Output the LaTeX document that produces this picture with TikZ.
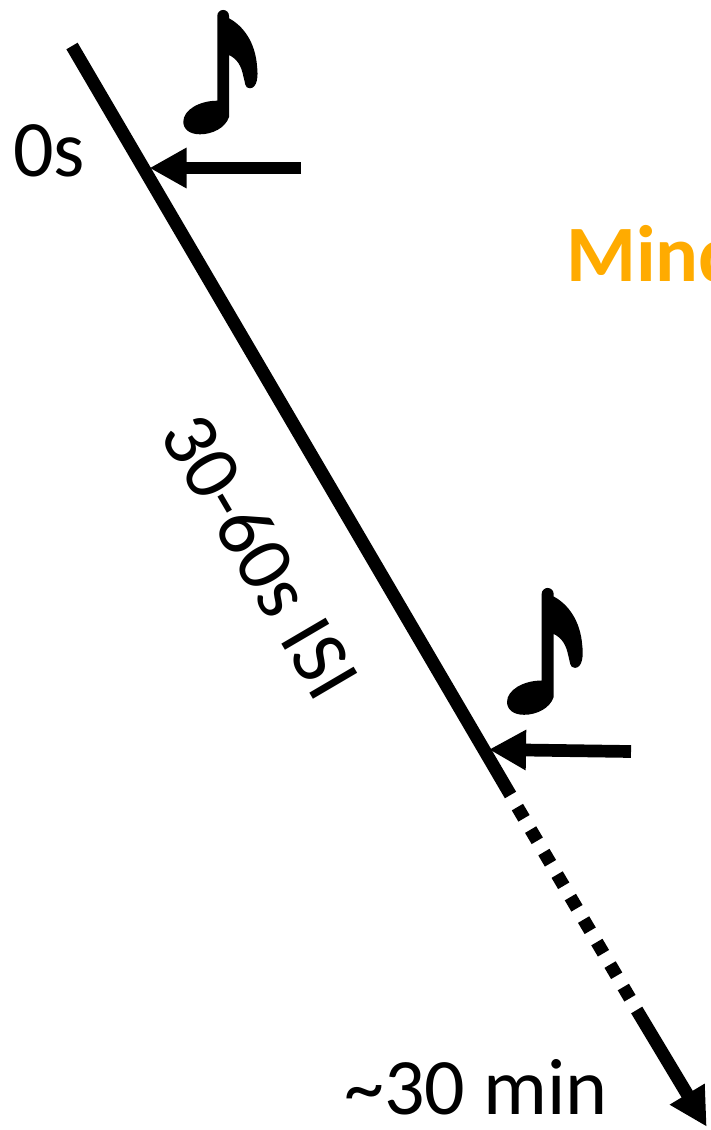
\documentclass[tikz,border=0pt]{standalone}
\usepackage{fontspec}
\setmainfont{Carlito}
\usetikzlibrary{arrows.meta}
\definecolor{mindorange}{HTML}{FFAB00}
\tikzset{
  timeline/.style={line width=13pt,line cap=butt},
  dotted part/.style={timeline,dash pattern=on 13pt off 13.1pt},
  pointer/.style={line width=12.7pt,line cap=butt,-{Triangle[length=37pt,width=38pt]}},
  lbl/.style={inner sep=0pt,font=\fontsize{80}{80}\selectfont},
  musicnote/.pic={
    \fill[black] (0,5.8) arc[start angle=180,end angle=360,radius=5.85] -- (11.7,8.3)
      .. controls (26,16) and (38,32) .. (39.8,56.7)
      .. controls (41,66) and (40,78) .. (32.7,78.3)
      .. controls (27,78.5) and (28,72) .. (26,66)
      .. controls (24,56) and (20,49) .. (11.7,45)
      -- (11.7,107)
      .. controls (8,118) and (-5,124.3) .. (-17.3,124.3)
      .. controls (-28,124.3) and (-34,119) .. (-34,111.7)
      .. controls (-34,100) and (-18,90.7) .. (0,90.7) -- cycle;
  }
}
\begin{document}
\begin{tikzpicture}[x=1pt,y=-1pt]
\useasboundingbox (0,0) rectangle (710,1130);
\coordinate (lineStart) at (72,46);
\coordinate (solidEnd) at (510.5,795);
\coordinate (dotStart) at (517.4,807.1);
\coordinate (dotEnd) at (630.1,998.5);
\coordinate (lastStart) at (636.7,1010);
\coordinate (lineTip) at (706.7,1126.7);
\coordinate (tickA) at (301,168);
\coordinate (tipA) at (149.5,168);
\coordinate (tickB) at (631,751.5);
\coordinate (tipB) at (489,749.5);
\draw[timeline] (lineStart) -- (solidEnd);
\draw[dotted part] (dotStart) -- (dotEnd);
\draw[timeline,-{Triangle[length=38pt,width=38pt]}] (lastStart) -- (lineTip);
\draw[pointer] (tickA) -- (tipA);
\draw[pointer] (tickB) -- (tipB);
\pic at (217.3,10) {musicnote};
\pic[scale=1.02] at (541.7,588) {musicnote};
\node[lbl,anchor=base west] (zero) at (13,176) {0s};
\node[lbl,anchor=base] (dur) at (476,1114) {\char"7E 30 min};
\node[lbl,rotate=-59.6] (isi) at (261,556) {30-60s ISI};
\begin{scope}
\clip (0,0) rectangle (710,1130);
\node[inner sep=0pt,anchor=base west,text=mindorange,font=\fontsize{80}{80}\selectfont\bfseries] (mind) at (566,281) {Mind};
\end{scope}
\end{tikzpicture}
\end{document}
